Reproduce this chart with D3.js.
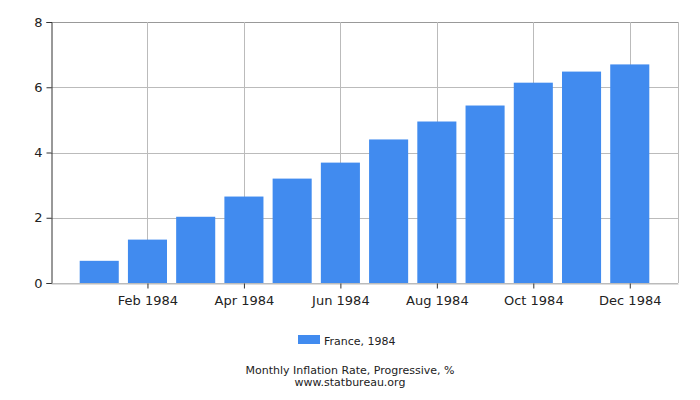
<!DOCTYPE html>
<html lang="en">
<head>
<meta charset="utf-8">
<title>France monthly inflation 1984</title>
<script src="https://cdn.jsdelivr.net/npm/d3@7"></script>
<style>
  body { margin: 0; background: #fff; }
  text { font-family: "DejaVu Sans", sans-serif; }
</style>
</head>
<body>
<script>
var months = ["Jan 1984", "Feb 1984", "Mar 1984", "Apr 1984", "May 1984", "Jun 1984",
              "Jul 1984", "Aug 1984", "Sep 1984", "Oct 1984", "Nov 1984", "Dec 1984"];
var values = [0.68, 1.33, 2.03, 2.65, 3.2, 3.69, 4.4, 4.95, 5.44, 6.14, 6.48, 6.7];
var yTicks = [0, 2, 4, 6, 8];
var seriesName = "France, 1984";

var w = 700, h = 400;
var plotL = 51, plotR = 678, plotT = 22, plotB = 283;

var svg = d3.select("body").append("svg")
  .attr("width", w)
  .attr("height", h);

var x = d3.scalePoint().domain(months).range([plotL, plotR]).padding(1);
var y = d3.scaleLinear().domain([0, 8]).range([plotB, plotT]);
var barW = x.step() * 0.81;
var xTicks = months.filter(function(d, i) { return i % 2 == 1; });

// grid
svg.append("g").selectAll("line")
  .data(yTicks).enter().append("line")
  .attr("x1", plotL).attr("x2", plotR)
  .attr("y1", function(d) { return Math.round(y(d)) + 0.5; })
  .attr("y2", function(d) { return Math.round(y(d)) + 0.5; })
  .attr("stroke", function(d) { return d == 8 ? "#999" : "#bbb"; });
svg.append("g").selectAll("line")
  .data(xTicks).enter().append("line")
  .attr("x1", function(d) { return Math.round(x(d)) + 0.5; })
  .attr("x2", function(d) { return Math.round(x(d)) + 0.5; })
  .attr("y1", plotT).attr("y2", plotB)
  .attr("stroke", "#bbb");
svg.append("line")
  .attr("x1", plotR + 0.5).attr("x2", plotR + 0.5)
  .attr("y1", plotT).attr("y2", plotB)
  .attr("stroke", "#bbb");

// bars
svg.append("g").selectAll("rect")
  .data(values).enter().append("rect")
  .attr("x", function(d, i) { return x(months[i]) - barW / 2; })
  .attr("y", function(d) { return y(d); })
  .attr("width", barW)
  .attr("height", function(d) { return y(0) - y(d); })
  .attr("fill", "#418bef");

// axes
var yAxis = svg.append("g")
  .attr("transform", "translate(" + (plotL + 0.5) + ",0)")
  .call(d3.axisLeft(y).tickValues(yTicks).tickSize(5).tickPadding(4));
yAxis.select(".domain").attr("stroke", "#333");
yAxis.selectAll(".tick line").attr("stroke", "#333");
yAxis.selectAll("text").attr("font-size", "13px").attr("fill", "#222")
  .style("font-family", "DejaVu Sans, sans-serif");

var xAxis = svg.append("g")
  .attr("transform", "translate(0," + (plotB + 0.5) + ")")
  .call(d3.axisBottom(x).tickValues(xTicks).tickSize(5).tickSizeOuter(0).tickPadding(7));
xAxis.select(".domain").attr("stroke", "#bbb");
xAxis.selectAll(".tick line").attr("stroke", "#333");
xAxis.selectAll("text").attr("font-size", "13px").attr("fill", "#222")
  .style("font-family", "DejaVu Sans, sans-serif");

// legend
svg.append("rect")
  .attr("x", 298).attr("y", 335)
  .attr("width", 22).attr("height", 9)
  .attr("fill", "#418bef");
svg.append("text")
  .attr("x", 324).attr("y", 345)
  .attr("font-size", "11px").attr("fill", "#222")
  .text(seriesName);

// caption
svg.append("text")
  .attr("x", 350).attr("y", 374)
  .attr("text-anchor", "middle")
  .attr("font-size", "11px").attr("fill", "#222")
  .text("Monthly Inflation Rate, Progressive, %");
svg.append("text")
  .attr("x", 350).attr("y", 386)
  .attr("text-anchor", "middle")
  .attr("font-size", "11px").attr("fill", "#222")
  .text("www.statbureau.org");
</script>
</body>
</html>
